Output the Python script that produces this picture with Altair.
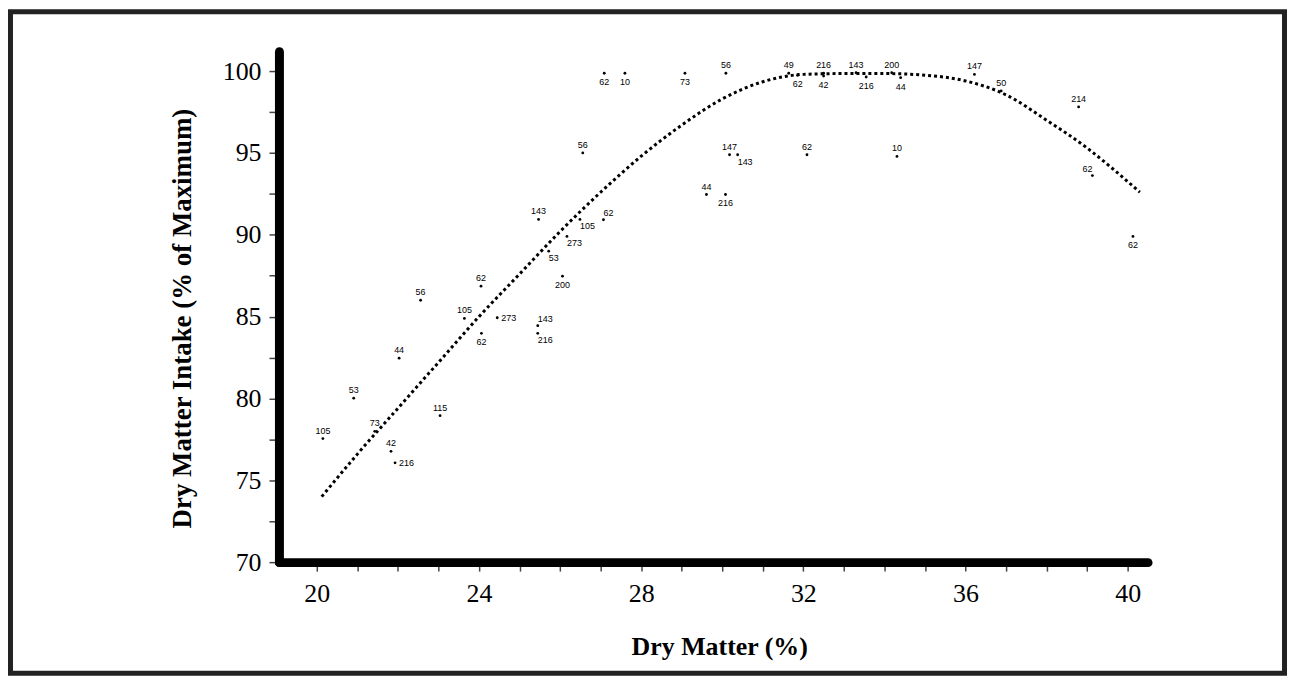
import altair as alt
import pandas as pd

# ---- data ----
dm = [20.15, 20.91, 21.43, 21.83, 21.93, 22.03, 22.56, 23.04, 23.64, 24.05, 24.06,
      24.45, 25.45, 25.45, 25.47, 25.72, 26.06, 26.17, 26.49, 26.56, 27.07, 27.09,
      27.60, 29.08, 29.61, 30.09, 30.08, 30.18, 30.38, 31.64, 31.86, 32.09, 32.50,
      32.50, 33.30, 33.55, 34.18, 34.40, 34.31, 36.22, 36.88, 38.79, 39.13, 40.13]
dmi = [77.55, 80.02, 77.99, 76.77, 76.07, 82.46, 86.00, 78.95, 84.89, 86.86, 83.98,
       84.93, 84.45, 83.98, 90.94, 89.00, 87.47, 89.90, 90.94, 95.00, 90.92, 99.87,
       99.87, 99.87, 92.46, 99.87, 92.46, 94.89, 94.89, 99.87, 99.74, 94.89, 99.87,
       99.70, 99.90, 99.64, 99.90, 99.60, 94.79, 99.80, 98.79, 97.81, 93.62, 89.90]
ref = ["105", "53", "73", "42", "216", "44", "56", "115", "105", "62", "62",
       "273", "143", "216", "143", "53", "200", "273", "105", "56", "62", "62",
       "10", "73", "44", "56", "216", "147", "143", "49", "62", "62", "216",
       "42", "143", "216", "200", "44", "10", "147", "50", "214", "62", "62"]
label_side = ["t", "t", "t", "t", "r", "t", "t", "t", "t", "t", "b",
              "r", "tr", "br", "t", "br", "b", "br", "br", "t", "tr", "b",
              "b", "b", "t", "t", "b", "t", "br", "t", "b", "t", "t",
              "b", "t", "b", "t", "b", "t", "t", "t", "t", "tl", "b"]

curve_dm = [20.12, 21.0, 22.0, 23.0, 24.0, 25.0, 26.0, 27.0, 28.0, 29.0, 30.0,
            31.0, 32.0, 33.0, 34.0, 35.0, 36.0, 37.0, 38.0, 39.0, 39.6, 40.3]
curve_dmi = [74.0, 76.6, 79.4, 82.2, 85.0, 87.6, 90.2, 92.6, 94.8, 96.7, 98.3,
             99.35, 99.8, 99.85, 99.85, 99.75, 99.4, 98.55, 97.0, 95.3, 94.1, 92.6]

x_ticks = [20, 21, 22, 23, 24, 25, 26, 27, 28, 29, 30, 31, 32, 33, 34, 35, 36, 37, 38, 39, 40]
y_ticks = [70, 72.5, 75, 77.5, 80, 82.5, 85, 87.5, 90, 92.5, 95, 97.5, 100]

pts = pd.DataFrame({"dm": dm, "dmi": dmi, "ref": ref, "side": label_side})
curve = pd.DataFrame({"dm": curve_dm, "dmi": curve_dmi})

W, H = 872, 513
serif = "Liberation Serif"
sans = "Liberation Sans"

x_scale = alt.Scale(domain=[19.066, 40.49], nice=False, zero=False)
y_scale = alt.Scale(domain=[70, 101.22], nice=False, zero=False)

x_axis = alt.Axis(
    title="Dry Matter (%)", values=x_ticks,
    labelExpr="datum.value % 4 === 0 ? format(datum.value, 'd') : ''",
    grid=False, domainColor="black", domainWidth=9, domainCap="round",
    tickColor="#444", tickWidth=1.5, tickSize=9, labelPadding=10,
    labelFont=serif, labelFontSize=26, labelColor="black",
    labelFlush=False, labelOverlap=False,
    titleFont=serif, titleFontSize=26, titleFontWeight="bold", titleColor="black",
    titleBaseline="middle", titleX=442, titleY=85,
)
y_axis = alt.Axis(
    title="Dry Matter Intake (% of Maximum)", values=y_ticks,
    labelExpr="datum.value % 5 === 0 ? format(datum.value, 'd') : ''",
    grid=False, domainColor="black", domainWidth=9, domainCap="round",
    tickColor="#444", tickWidth=1.5, tickSize=10, labelPadding=8,
    labelFont=serif, labelFontSize=26, labelColor="black",
    labelFlush=False, labelOverlap=False,
    titleFont=serif, titleFontSize=27, titleFontWeight="bold", titleColor="black",
    titleBaseline="middle", titleAlign="center", titleAngle=270,
    titleX=-97, titleY=268,
)

base = alt.Chart(pts)

points = base.mark_point(filled=True, size=8, color="black", opacity=1).encode(
    x=alt.X("dm:Q", scale=x_scale, axis=x_axis),
    y=alt.Y("dmi:Q", scale=y_scale, axis=y_axis),
)

line = alt.Chart(curve).mark_line(
    color="black", strokeWidth=3, strokeDash=[3, 3], strokeCap="butt", interpolate="monotone"
).encode(x="dm:Q", y="dmi:Q")

placements = {
    "t": dict(align="center", dx=0, dy=-8),
    "b": dict(align="center", dx=0, dy=9),
    "r": dict(align="left", dx=4, dy=0),
    "tr": dict(align="left", dx=0, dy=-7),
    "br": dict(align="left", dx=0, dy=7),
    "tl": dict(align="right", dx=0, dy=-7),
}
texts = []
for key, p in placements.items():
    texts.append(
        base.transform_filter(alt.datum.side == key)
        .mark_text(baseline="middle", font=sans, fontSize=9, color="black", **p)
        .encode(x="dm:Q", y="dmi:Q", text="ref:N")
    )

frame = alt.Chart(alt.Data(values=[{}])).mark_rect(
    fill="white", fillOpacity=0, stroke="#222", strokeWidth=5
).encode(
    x=alt.value(-269.5), x2=alt.value(1009.5),
    y=alt.value(-39.5), y2=alt.value(624.5),
)

chart = alt.layer(frame, line, points, *texts).properties(
    width=W, height=H, padding=0, background="white"
).configure_view(stroke=None)

chart.save("out.html", embed_options={"renderer": "svg", "actions": False})
